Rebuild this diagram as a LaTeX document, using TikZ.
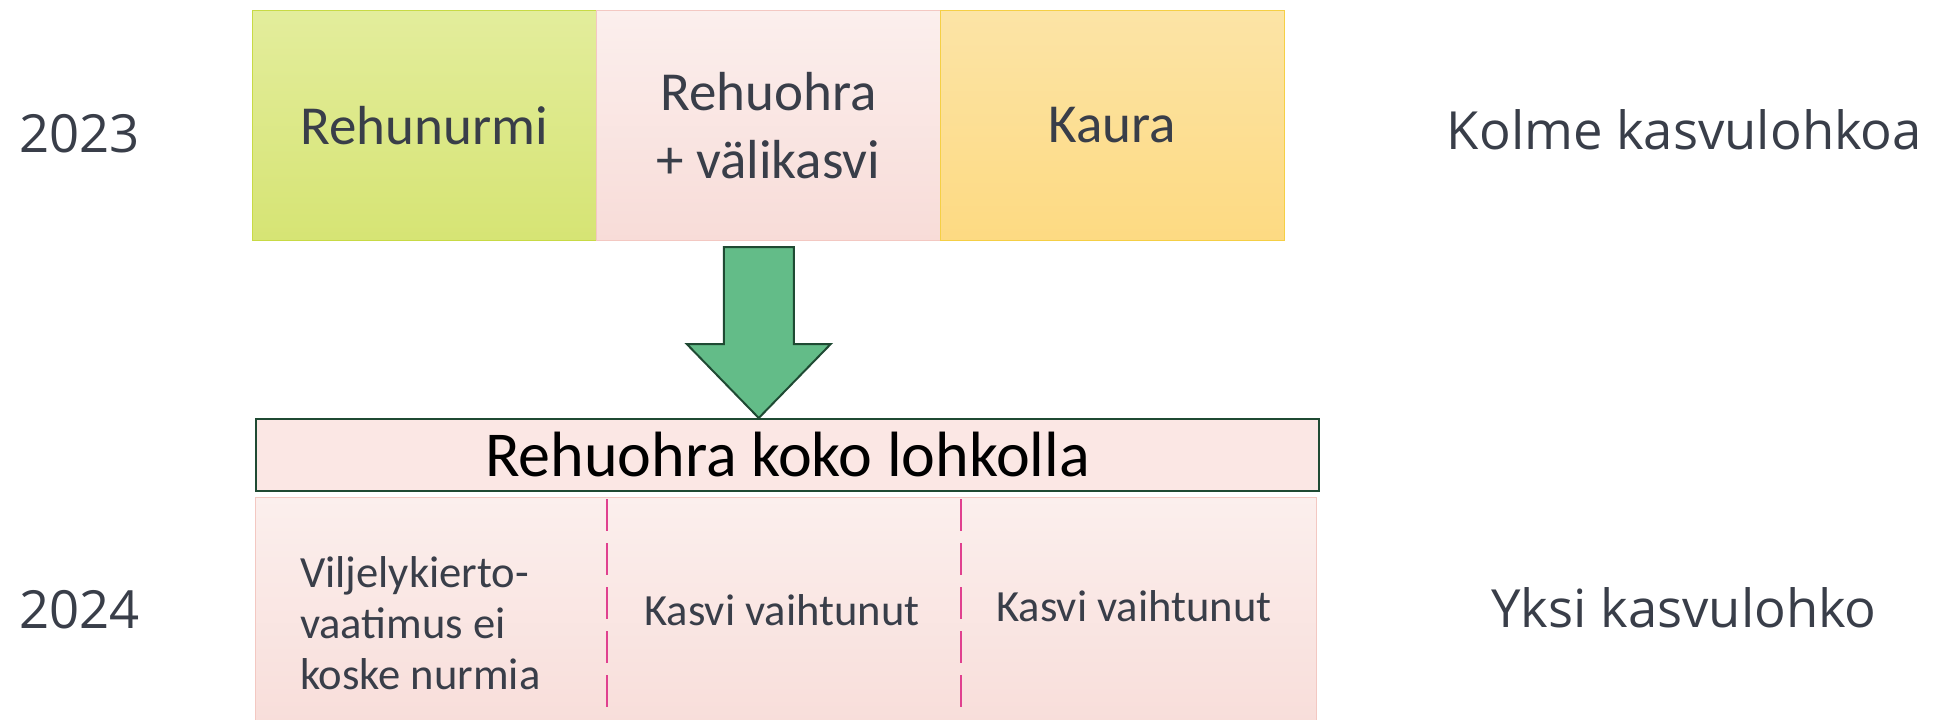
\documentclass[tikz,border=0pt]{standalone}
\usepackage{fontspec}
\setmainfont{Carlito}
\newfontfamily\sidefont{Open Sans}
\usetikzlibrary{calc}
\definecolor{txtgray}{HTML}{393E49}
\definecolor{nurmitop}{HTML}{E3ED9C}
\definecolor{nurmibot}{HTML}{D6E474}
\definecolor{nurmiline}{HTML}{C8DA45}
\definecolor{rosatop}{HTML}{FBEFED}
\definecolor{rosabot}{HTML}{F8DCD8}
\definecolor{rosaline}{HTML}{F3C8C2}
\definecolor{kauratop}{HTML}{FCE4A6}
\definecolor{kaurabot}{HTML}{FDDA82}
\definecolor{kauraline}{HTML}{F5CF45}
\definecolor{arrowfill}{HTML}{63BC88}
\definecolor{darkgreen}{HTML}{1F4A33}
\definecolor{bannerfill}{HTML}{FBE7E4}
\definecolor{magenta}{HTML}{E0408F}
\begin{document}
\begin{tikzpicture}[x=0.5pt,y=-0.5pt,
    lohko/.style={draw,anchor=north west,inner sep=0pt,minimum width=172pt,minimum height=115pt,
        align=center,text=txtgray,font=\fontsize{27.5}{34}\selectfont},
    sidelabel/.style={font=\sidefont\fontsize{26.3}{32}\selectfont,text=txtgray},
    smalltext/.style={font=\fontsize{22.3}{25.5}\selectfont,text=txtgray},
    divider/.style={magenta,line width=1pt,dash pattern=on 16pt off 6pt}]
\useasboundingbox (0,0) rectangle (1939,719);
\clip (0,0) rectangle (1939,719);
% 2023
\node[lohko,draw=nurmiline,top color=nurmitop,bottom color=nurmibot] (nurmi) at (252,10) {Rehunurmi};
\node[lohko,draw=rosaline,top color=rosatop,bottom color=rosabot] (ohra) at (596,10) {Rehuohra\\+ välikasvi};
\node[lohko,draw=kauraline,top color=kauratop,bottom color=kaurabot] (kaura) at (940,10) {Kaura};
\node[sidelabel,anchor=west] (v2023) at (12,134) {2023};
\node[sidelabel,anchor=east] (kolme) at (1929,130) {Kolme kasvulohkoa};
% 2024
\node[draw=darkgreen,line width=1pt,fill=bannerfill,anchor=north west,inner sep=0pt,
    minimum width=531.5pt,minimum height=36pt,font=\fontsize{32}{38}\selectfont] (banner) at (255,418) {Rehuohra koko lohkolla};
\node[draw=rosaline,top color=rosatop,bottom color=rosabot,anchor=north west,inner sep=0pt,
    minimum width=530.5pt,minimum height=125pt] (yksi) at (255,497) {};
\draw[divider] (607,499) -- (607,719);
\draw[divider] (961,499) -- (961,719);
\node[smalltext,anchor=west,align=left] (vaatimus) at (293,623) {Viljelykierto-\\vaatimus ei\\koske nurmia};
\node[smalltext] (kasvi1) at (782,610) {Kasvi vaihtunut};
\node[smalltext] (kasvi2) at (1134,606) {Kasvi vaihtunut};
\node[sidelabel,anchor=west] (v2024) at (12,610) {2024};
\node[sidelabel] (yksilohko) at (1684,608) {Yksi kasvulohko};
% arrow
\coordinate (tip) at ($(banner.north west)!0.473!(banner.north east)$);
\draw[darkgreen,line width=1pt,fill=arrowfill] (tip) -- ++(-72,-74) -- ++(37,0) -- ++(0,-97)
    -- ++(70,0) -- ++(0,97) -- ++(37,0) -- cycle;
\end{tikzpicture}
\end{document}
